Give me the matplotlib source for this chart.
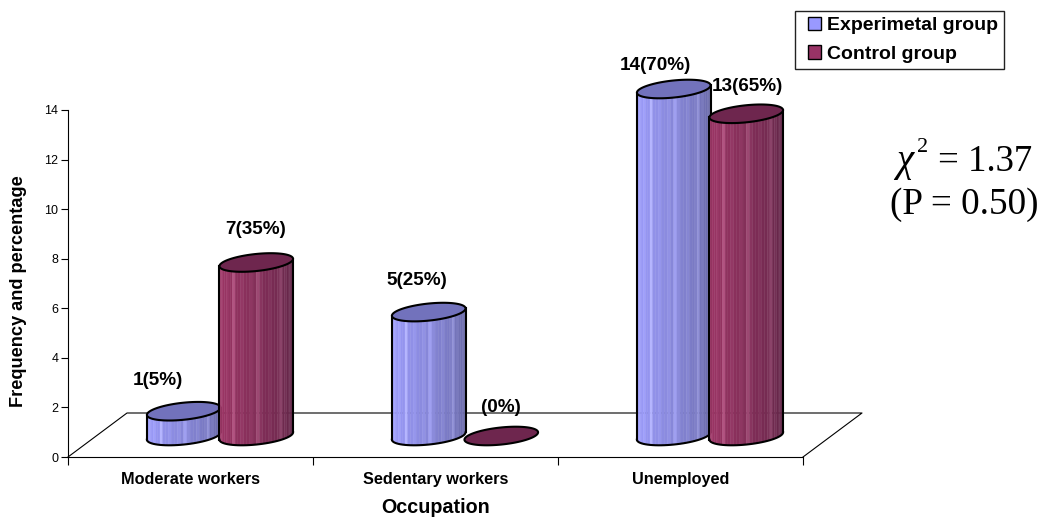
#!/usr/bin/env python3
import numpy as np
import matplotlib
matplotlib.use('Agg')
import matplotlib.pyplot as plt
from matplotlib.patches import Patch

plt.rcParams['font.family'] = ['Liberation Sans', 'DejaVu Sans']

## data
categories = ['Moderate workers', 'Sedentary workers', 'Unemployed']
experimental = [1, 5, 14]
control = [7, 0, 13]
exp_labels = ['1(5%)', '5(25%)', '14(70%)']
ctl_labels = ['7(35%)', '(0%)', '13(65%)']
series_names = ['Experimetal group', 'Control group']
yticks = [0, 2, 4, 6, 8, 10, 12, 14]

## figure, the axes box sits on the pixel positions of the original
W, H = 1050, 520
fig = plt.figure(figsize=(W / 100, H / 100), dpi=100)
ax = fig.add_axes([68 / W, (H - 457) / H, 735 / W, 347 / H])
ax.set_xlim(0, 3)
ax.set_ylim(0, 14)
sx = 735 / 3      # pixels per category
sy = 347 / 14     # pixels per y unit

## fake 3d settings
depth_x, depth_y = 59 / sx, 44 / sy      # floor depth
base_y = 21 / sy                         # cylinders stand mid floor
bar_shift = 0.148
a, b = 37.0, 8.5                         # ellipse radii in pixels
phi = np.radians(6)


def ellipse(t):
    ex = a * np.cos(t) * np.cos(phi) - b * np.sin(t) * np.sin(phi)
    ey = a * np.cos(t) * np.sin(phi) + b * np.sin(t) * np.cos(phi)
    return ex / sx, ey / sy


def cylinder(xc, val, left, right, top, z):
    y0 = base_y
    y1 = base_y + val
    delta = np.arctan(-(b / a) * np.tan(phi))
    if val > 0:
        t = np.linspace(np.pi + delta, 2 * np.pi + delta, 37)
        ex, ey = ellipse(t)
        left, right = np.array(left), np.array(right)
        for i in range(len(t) - 1):
            # most of the falloff happens on the right hand half
            f = (i / (len(t) - 2)) ** 1.3
            c = left + (right - left) * f
            if i % 3 == 1:
                c = np.clip(c + 0.03, 0, 1)
            if i % 8 == 2:
                c = np.clip(c + 0.10, 0, 1)
            px = [xc + ex[i], xc + ex[i + 1], xc + ex[i + 1], xc + ex[i]]
            py = [y1 + ey[i], y1 + ey[i + 1], y0 + ey[i + 1], y0 + ey[i]]
            ax.fill(px, py, color=c, lw=0.3, clip_on=False, zorder=z)
        # outline of the side
        ax.plot([xc + ex[0], xc + ex[0]], [y1 + ey[0], y0 + ey[0]], color='black', lw=1.5,
                clip_on=False, zorder=z + 0.1)
        ax.plot([xc + ex[-1], xc + ex[-1]], [y1 + ey[-1], y0 + ey[-1]], color='black', lw=1.5,
                clip_on=False, zorder=z + 0.1)
        ax.plot(xc + ex, y0 + ey, color='black', lw=1.5, clip_on=False, zorder=z + 0.1)
    t = np.linspace(0, 2 * np.pi, 120)
    ex, ey = ellipse(t)
    ax.fill(xc + ex, y1 + ey, facecolor=top, edgecolor='black', lw=1.5, clip_on=False, zorder=z + 0.2)


## floor
floor_x = [0, depth_x, 3 + depth_x, 3]
floor_y = [0, depth_y, depth_y, 0]
ax.plot(floor_x, floor_y, color='black', lw=0.8, clip_on=False, zorder=1)

exp_left, exp_right, exp_top = (0.62, 0.62, 1.0), (0.39, 0.39, 0.62), '#7272BC'
ctl_left, ctl_right, ctl_top = (0.62, 0.21, 0.40), (0.36, 0.14, 0.27), '#6E264E'

## label offsets in pixels from the top of each cylinder
exp_dx = [-26, -12, -18]
exp_dy = [31, 32, 24]
ctl_dx = [-1, 0, 1]
ctl_dy = [33, 28, 27]

for i in range(len(categories)):
    xe = i + 0.5 + depth_x / 2 - bar_shift
    xc = i + 0.5 + depth_x / 2 + bar_shift
    z = 3 + i
    cylinder(xe, experimental[i], exp_left, exp_right, exp_top, z)
    cylinder(xc, control[i], ctl_left, ctl_right, ctl_top, z + 0.5)
    ax.annotate(exp_labels[i], (xe, base_y + experimental[i]), xytext=(exp_dx[i], exp_dy[i]),
                textcoords='offset pixels', ha='center', va='center', fontsize=13.6,
                fontweight='bold', annotation_clip=False, zorder=2)
    ax.annotate(ctl_labels[i], (xc, base_y + control[i]), xytext=(ctl_dx[i], ctl_dy[i]),
                textcoords='offset pixels', ha='center', va='center', fontsize=13.6,
                fontweight='bold', annotation_clip=False, zorder=2)

## axes
ax.spines['top'].set_visible(False)
ax.spines['right'].set_visible(False)
ax.patch.set_alpha(0)
ax.set_yticks(yticks)
ax.tick_params(axis='y', labelsize=9, length=5, pad=2)
ax.set_xticks([0, 1, 2, 3])
ax.set_xticklabels([])
ax.tick_params(axis='x', which='major', length=6)
ax.set_xticks([0.5, 1.5, 2.5], minor=True)
ax.set_xticklabels(categories, minor=True, fontsize=11.7, fontweight='bold')
ax.tick_params(axis='x', which='minor', length=0, pad=11)
ax.set_xlabel('Occupation', fontsize=14.2, fontweight='bold', labelpad=8)
fig.text(19 / W, 1 - 291 / H, 'Frequency and percentage', rotation=90, ha='center', va='center',
         fontsize=13.1, fontweight='bold')

## legend
handles = [Patch(facecolor='#9999FF', edgecolor='black', lw=1.0, label=series_names[0]),
           Patch(facecolor='#993366', edgecolor='black', lw=1.0, label=series_names[1])]
leg = fig.legend(handles=handles, loc='upper left', bbox_to_anchor=(795 / W, 1 - 11 / H),
                 fancybox=False, framealpha=1, edgecolor='#222222', borderaxespad=0,
                 handlelength=0.7, handleheight=0.7, handletextpad=0.65, labelspacing=0.55,
                 borderpad=0.3, prop={'weight': 'bold', 'size': 14})
for p in leg.get_patches():
    p.set_x(p.get_x() + 5)

## chi square note
serif = ['Liberation Serif', 'DejaVu Serif']
fig.text(896 / W, 1 - 171 / H, '\u03c7', family=serif, style='italic', fontsize=28, ha='left', va='baseline')
fig.text(917 / W, 1 - 152 / H, '2', family=serif, fontsize=16, ha='left', va='baseline')
fig.text(938 / W, 1 - 171 / H, '= 1.37', family=serif, fontsize=26.5, ha='left', va='baseline')
fig.text(890 / W, 1 - 214 / H, '(P = 0.50)', family=serif, fontsize=26.7, ha='left', va='baseline')

fig.savefig('out.png', dpi=100)
